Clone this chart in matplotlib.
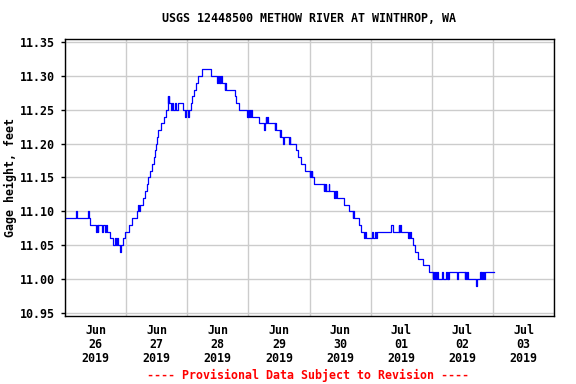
import matplotlib
matplotlib.use("Agg")
import matplotlib.pyplot as plt
import matplotlib.dates as mdates
from matplotlib.ticker import FormatStrFormatter
import pandas as pd

title = "USGS 12448500 METHOW RIVER AT WINTHROP, WA"
ylabel = "Gage height, feet"
footer = "---- Provisional Data Subject to Revision ----"

start = pd.Timestamp("2019-06-26 00:00")
end = pd.Timestamp("2019-07-04 00:00")
yticks = [10.95, 11.00, 11.05, 11.10, 11.15, 11.20, 11.25, 11.30, 11.35]

# hours after Jun 26 00:00 where the reading changes (step data)
obs_hours = [
    0, 4.3, 4.55, 9.1, 9.4, 10.0, 12.2, 12.5, 12.8, 13.1, 14.5, 14.8, 15.9, 16.1, 16.3,
    17.8, 19.0, 19.6, 19.9, 20.5, 20.8, 21.6, 22.0, 22.6, 23.6,
    25.0, 26.2, 28.2, 28.8, 29.1, 29.5, 30.8, 31.4, 32.1, 32.7, 33.4, 34.1, 35.1, 35.4,
    35.6, 36.0, 36.4, 37.6, 39.0, 39.7, 40.3, 40.6, 40.8, 41.0, 41.6, 42.1, 42.4, 43.2,
    43.6, 44.5, 46.5, 47.1, 47.5,
    48.2, 48.5, 49.5, 50.0, 50.6, 51.3, 52.1, 53.9, 57.5, 59.5, 60.2, 60.4, 60.7, 60.9,
    61.2, 61.5, 62.8, 63.0, 63.3, 66.7, 67.3, 68.4, 71.5, 71.8,
    72.0, 72.3, 72.6, 73.2, 73.5, 76.2, 78.2, 78.4, 78.8, 79.1, 79.3, 79.6, 82.3, 82.6,
    82.9, 84.3, 84.6, 84.8, 85.6, 85.9, 87.8, 88.2, 88.5, 90.6, 91.5, 92.6, 94.4,
    96.0, 96.3, 96.5, 96.8, 97.1, 97.6, 101.5, 101.8, 102.0, 102.3, 102.5, 103.6, 103.8,
    105.8, 106.1, 106.3, 106.6, 106.8, 109.7, 111.4, 113.0, 113.2, 113.6, 115.3, 116.2,
    117.5, 117.8, 118.2,
    120.5, 120.8, 121.9, 122.1, 122.5, 128.0, 128.6, 131.0, 131.2, 131.5, 132.0, 134.6,
    134.9, 135.2, 135.5, 135.9, 136.5, 137.6, 138.5, 140.4, 142.8,
    144.4, 144.6, 145.0, 145.3, 145.7, 145.9, 146.3, 148.0, 148.3, 149.6, 149.8, 150.2,
    150.5, 150.7, 154.1, 154.4, 156.9, 157.1, 157.4, 157.7, 158.1, 161.3, 161.6, 163.0,
    163.3, 163.5, 163.9, 164.2, 164.4, 165.0, 168.5,
]
gage_ft = [
    11.09, 11.10, 11.09, 11.10, 11.09, 11.08, 11.07, 11.08, 11.07, 11.08, 11.07, 11.08, 11.07, 11.08, 11.07,
    11.06, 11.05, 11.06, 11.05, 11.06, 11.05, 11.04, 11.05, 11.06, 11.07,
    11.08, 11.09, 11.10, 11.11, 11.10, 11.11, 11.12, 11.13, 11.14, 11.15, 11.16, 11.17, 11.18, 11.19,
    11.20, 11.21, 11.22, 11.23, 11.24, 11.25, 11.27, 11.26, 11.27, 11.26, 11.25, 11.26, 11.25, 11.26,
    11.25, 11.26, 11.25, 11.24, 11.25,
    11.24, 11.25, 11.26, 11.27, 11.28, 11.29, 11.30, 11.31, 11.30, 11.29, 11.30, 11.29, 11.30, 11.29,
    11.30, 11.29, 11.28, 11.29, 11.28, 11.27, 11.26, 11.25, 11.24, 11.25,
    11.24, 11.25, 11.24, 11.25, 11.24, 11.23, 11.22, 11.23, 11.24, 11.23, 11.24, 11.23, 11.22, 11.23,
    11.22, 11.21, 11.22, 11.21, 11.20, 11.21, 11.20, 11.21, 11.20, 11.19, 11.18, 11.17, 11.16,
    11.15, 11.16, 11.15, 11.16, 11.15, 11.14, 11.13, 11.14, 11.13, 11.14, 11.13, 11.14, 11.13,
    11.12, 11.13, 11.12, 11.13, 11.12, 11.11, 11.10, 11.09, 11.10, 11.09, 11.08, 11.07,
    11.06, 11.07, 11.06,
    11.07, 11.06, 11.07, 11.06, 11.07, 11.08, 11.07, 11.08, 11.07, 11.08, 11.07, 11.06,
    11.07, 11.06, 11.07, 11.06, 11.05, 11.04, 11.03, 11.02, 11.01,
    11.00, 11.01, 11.00, 11.01, 11.00, 11.01, 11.00, 11.01, 11.00, 11.01, 11.00, 11.01,
    11.00, 11.01, 11.00, 11.01, 11.00, 11.01, 11.00, 11.01, 11.00, 10.99, 11.00, 11.01,
    11.00, 11.01, 11.00, 11.01, 11.00, 11.01, 11.01,
]

font = dict(family="DejaVu Sans Mono", weight="bold", size=8.4)
plt.rcParams["font.family"] = "DejaVu Sans Mono"
plt.rcParams["font.weight"] = "bold"
plt.rcParams["font.size"] = 8.4

W, H = 576, 384
fig = plt.figure(figsize=(W / 100, H / 100), dpi=100)
ax = fig.add_axes([65 / W, 1 - 316 / H, (554 - 65) / W, (316 - 39) / H])

times = start + pd.to_timedelta(obs_hours, unit="h")
ax.plot(times, gage_ft, drawstyle="steps-post", color="#0000ff", lw=0.9)

ax.set_xlim(start, end)
ax.set_ylim(10.945, 11.355)
ax.set_yticks(yticks)
ax.yaxis.set_major_formatter(FormatStrFormatter("%.2f"))

# labels at noon, grid at midnight
ax.xaxis.set_major_locator(mdates.HourLocator(byhour=12))
ax.xaxis.set_major_formatter(mdates.DateFormatter("%b\n%d\n%Y"))
ax.xaxis.set_minor_locator(mdates.DayLocator())
ax.grid(True, which="minor", axis="x", color="#cccccc", lw=1)
ax.grid(True, which="major", axis="y", color="#cccccc", lw=1)
ax.set_axisbelow(True)

ax.tick_params(axis="x", which="both", length=0, pad=6)
ax.tick_params(axis="y", length=3, width=1, pad=4)
for lab in ax.get_xticklabels():
    lab.set_linespacing(1.1)

for s in ax.spines.values():
    s.set_linewidth(1)
    s.set_color("black")

ax.set_ylabel(ylabel, **font)
ax.yaxis.set_label_coords(-0.098, 0.5)

fig.text(309.5 / W, 1 - 19 / H, title, ha="center", va="center", **font)
fig.text(308 / W, 1 - 375 / H, footer, ha="center", va="center", color="red", **font)

fig.savefig("out.png", dpi=100)
